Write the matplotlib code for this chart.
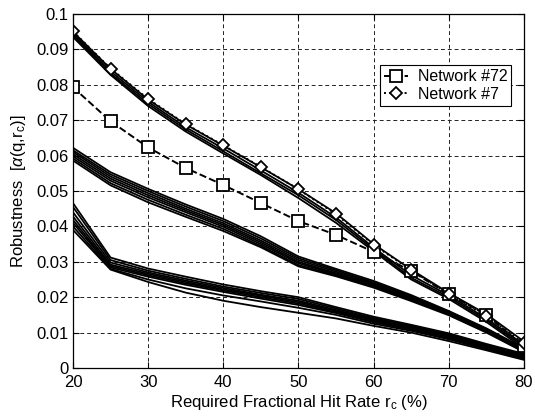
import numpy as np
import matplotlib
matplotlib.use('Agg')
import matplotlib.pyplot as plt

plt.rcParams['font.family'] = ['Liberation Sans', 'DejaVu Sans']
plt.rcParams['mathtext.fontset'] = 'custom'
plt.rcParams['mathtext.rm'] = 'Liberation Sans'
plt.rcParams['mathtext.it'] = 'Liberation Sans:italic'

# required fractional hit rate (%)
hit_rate = [20, 25, 30, 35, 40, 45, 50, 55, 60, 65, 70, 75, 80]

# highlighted networks
net72 = [0.0793, 0.0697, 0.0623, 0.0565, 0.0517, 0.0466, 0.0415, 0.0376, 0.0328, 0.0274, 0.0208, 0.0150, 0.0062]
net7 = [0.0951, 0.0846, 0.0760, 0.0689, 0.0629, 0.0568, 0.0505, 0.0434, 0.0348, 0.0276, 0.0209, 0.0146, 0.0070]

# other networks, upper group (close to #7)
upper_group = [
    [0.0945, 0.0838, 0.0752, 0.0680, 0.0620, 0.0558, 0.0495, 0.0425, 0.0340, 0.0262, 0.0205, 0.0140, 0.0065],
    [0.0940, 0.0832, 0.0746, 0.0674, 0.0612, 0.0550, 0.0488, 0.0418, 0.0335, 0.0255, 0.0200, 0.0135, 0.0060],
    [0.0935, 0.0828, 0.0740, 0.0668, 0.0606, 0.0545, 0.0480, 0.0410, 0.0330, 0.0250, 0.0195, 0.0130, 0.0055],
    [0.0950, 0.0845, 0.0758, 0.0688, 0.0628, 0.0567, 0.0505, 0.0437, 0.0350, 0.0278, 0.0212, 0.0152, 0.0075],
]

# middle group
middle_group = [
    [0.0622, 0.0553, 0.0506, 0.0462, 0.0421, 0.0372, 0.0315, 0.0280, 0.0246, 0.0206, 0.0161, 0.0112, 0.0056],
    [0.0615, 0.0547, 0.0500, 0.0456, 0.0415, 0.0366, 0.0310, 0.0276, 0.0242, 0.0203, 0.0159, 0.0110, 0.0054],
    [0.0610, 0.0541, 0.0494, 0.0450, 0.0409, 0.0360, 0.0305, 0.0272, 0.0239, 0.0200, 0.0157, 0.0108, 0.0052],
    [0.0604, 0.0535, 0.0488, 0.0445, 0.0404, 0.0355, 0.0300, 0.0268, 0.0236, 0.0197, 0.0155, 0.0106, 0.0050],
    [0.0598, 0.0529, 0.0482, 0.0440, 0.0399, 0.0350, 0.0296, 0.0265, 0.0233, 0.0195, 0.0153, 0.0104, 0.0049],
    [0.0592, 0.0522, 0.0475, 0.0433, 0.0393, 0.0345, 0.0291, 0.0262, 0.0230, 0.0192, 0.0151, 0.0102, 0.0047],
    [0.0586, 0.0516, 0.0468, 0.0427, 0.0387, 0.0341, 0.0287, 0.0259, 0.0227, 0.0189, 0.0149, 0.0100, 0.0045],
]

# lower group
lower_group = [
    [0.0466, 0.0312, 0.0281, 0.0258, 0.0236, 0.0217, 0.0200, 0.0172, 0.0145, 0.0122, 0.0098, 0.0068, 0.0040],
    [0.0455, 0.0305, 0.0275, 0.0252, 0.0230, 0.0212, 0.0195, 0.0168, 0.0141, 0.0119, 0.0095, 0.0065, 0.0037],
    [0.0440, 0.0298, 0.0270, 0.0247, 0.0226, 0.0207, 0.0190, 0.0164, 0.0138, 0.0116, 0.0092, 0.0062, 0.0034],
    [0.0428, 0.0292, 0.0266, 0.0243, 0.0222, 0.0204, 0.0186, 0.0161, 0.0135, 0.0113, 0.0089, 0.0060, 0.0032],
    [0.0418, 0.0288, 0.0262, 0.0239, 0.0219, 0.0200, 0.0182, 0.0158, 0.0132, 0.0110, 0.0086, 0.0058, 0.0030],
    [0.0410, 0.0284, 0.0258, 0.0235, 0.0215, 0.0196, 0.0178, 0.0155, 0.0129, 0.0108, 0.0084, 0.0056, 0.0028],
    [0.0400, 0.0280, 0.0250, 0.0225, 0.0205, 0.0188, 0.0170, 0.0150, 0.0125, 0.0105, 0.0081, 0.0053, 0.0026],
    [0.0390, 0.0278, 0.0243, 0.0213, 0.0190, 0.0172, 0.0156, 0.0140, 0.0119, 0.0100, 0.0076, 0.0050, 0.0023],
]

fig = plt.figure(figsize=(5.35, 4.19), dpi=100)
ax = fig.add_axes([0.1364, 0.1217, 0.8430, 0.8449])

for y in upper_group + middle_group + lower_group:
    ax.plot(hit_rate, y, color='black', lw=1.3)

ax.plot(hit_rate, net72, color='black', ls='--', lw=1.4, marker='s', ms=8,
        mfc='white', mec='black', mew=1.3, label='Network #72')
ax.plot(hit_rate, net7, color='black', ls=':', lw=1.4, marker='D', ms=6.5,
        mfc='white', mec='black', mew=1.3, label='Network #7')

ax.set_xlim(20, 80)
ax.set_ylim(0, 0.1)
ax.set_xticks(np.arange(20, 81, 10))
ax.set_yticks(np.arange(0, 0.101, 0.01))
ax.set_yticklabels(['0', '0.01', '0.02', '0.03', '0.04', '0.05', '0.06', '0.07', '0.08', '0.09', '0.1'])
ax.tick_params(direction='in', labelsize=12, top=True, right=True, length=4)
ax.tick_params(axis='x', pad=5)
ax.tick_params(axis='y', pad=3)
ax.grid(True, color='#222222', ls=(0, (4, 3)), lw=0.7)
for s in ax.spines.values():
    s.set_linewidth(0.9)

ax.set_xlabel(r'Required Fractional Hit Rate r$_\mathrm{c}$ (%)', fontsize=12, labelpad=2)
ax.set_ylabel(r'Robustness  [$\alpha$(q,r$_\mathrm{c}$)]', fontsize=12, labelpad=6)

leg = ax.legend(loc='upper right', bbox_to_anchor=(0.972, 0.855), fontsize=11.5,
                fancybox=False, edgecolor='black', framealpha=1, handlelength=1.5,
                borderpad=0.25, labelspacing=0.15, handletextpad=0.6, borderaxespad=0)
leg.get_frame().set_linewidth(0.8)

fig.savefig('out.png', dpi=100)
